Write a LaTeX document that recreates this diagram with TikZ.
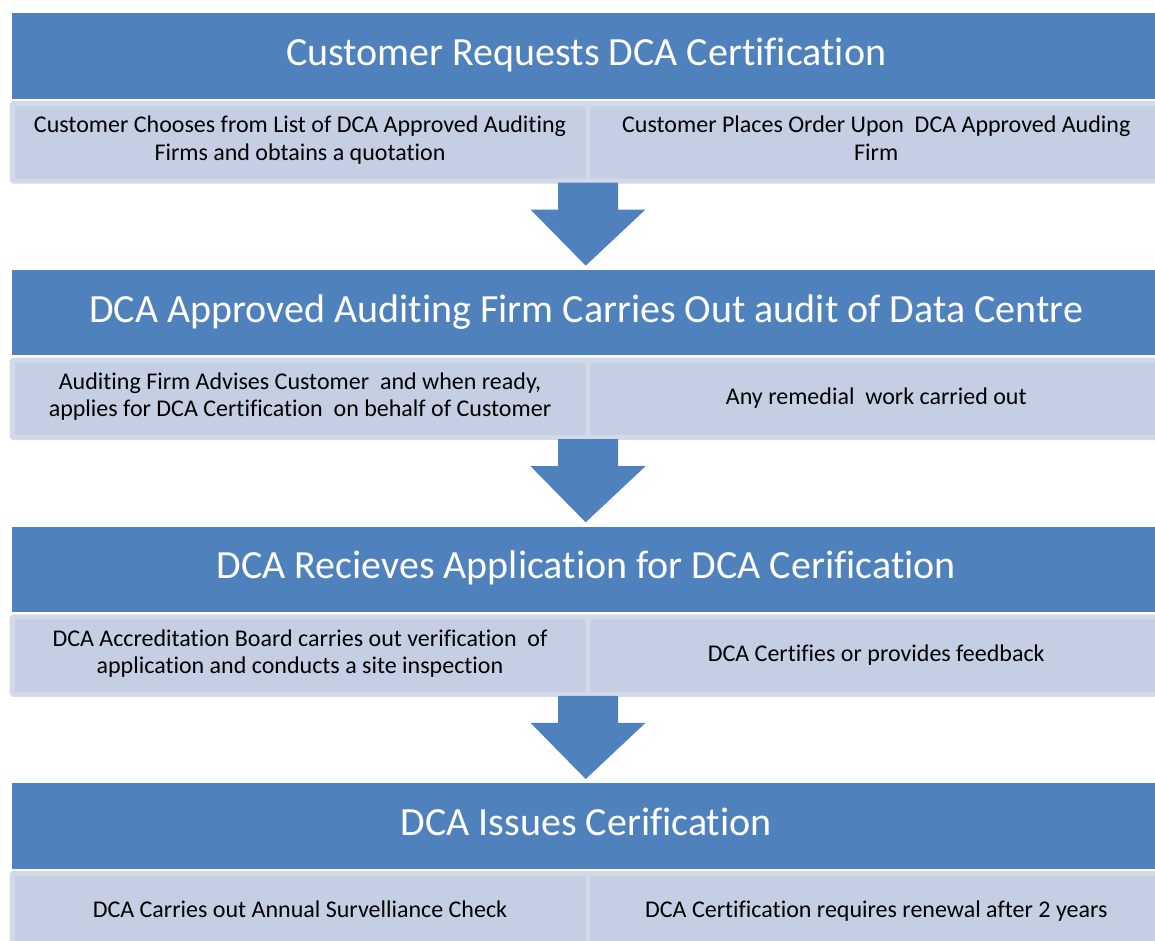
\documentclass[tikz,border=0pt]{standalone}
\usepackage{fontspec}
\setmainfont{Carlito}[Ligatures=NoCommon]
\usetikzlibrary{calc}
\definecolor{hdrblue}{HTML}{4F81BD}
\definecolor{subfill}{HTML}{C4CFE3}
\definecolor{subedge}{HTML}{D2D9E9}
\newcommand{\hdrstrut}{\rule[-9pt]{0pt}{32pt}}
\begin{document}
\begin{tikzpicture}[x=1pt,y=-1pt,
  hdr/.style={fill=hdrblue, text=white, font=\fontsize{40}{46}\selectfont,
    inner sep=0pt, anchor=north west, minimum width=1148pt, minimum height=85.5pt,
    execute at begin node=\hdrstrut},
  subbox/.style={fill=subfill, draw=subedge, line width=5pt, rounded corners=1.5pt,
    font=\fontsize{24}{27.5}\selectfont, align=center, inner sep=0pt,
    anchor=north west, minimum height=77.5pt,
    execute at begin node=\strut, execute at end node=\strut},
  leftbox/.style={subbox, minimum width=576pt},
  rightbox/.style={subbox, minimum width=576.5pt},
  bigarrow/.style={fill=hdrblue}]
\useasboundingbox (0,0) rectangle (1155,940);

% block 0
\node[hdr] (h0) at (12,13) {Customer Requests DCA Certification};
\node[leftbox] (l0) at (9.5,101) {Customer Chooses from List of DCA Approved Auditing\\Firms and obtains a quotation};
\node[rightbox] (r0) at (585.5,101) {Customer Places Order Upon \ DCA Approved Auding\\Firm};

% block 1
\node[hdr] (h1) at (12,269.67) {DCA Approved Auditing Firm Carries Out audit of Data Centre};
\node[leftbox] (l1) at (9.5,357.67) {Auditing Firm Advises Customer \ and when ready,\\applies for DCA Certification \ on behalf of Customer};
\node[rightbox] (r1) at (585.5,357.67) {Any remedial \ work carried out};

% block 2
\node[hdr] (h2) at (12,526.33) {DCA Recieves Application for DCA Cerification};
\node[leftbox] (l2) at (9.5,614.33) {DCA Accreditation Board carries out verification \ of\\application and conducts a site inspection};
\node[rightbox] (r2) at (585.5,614.33) {DCA Certifies or provides feedback};

% block 3
\node[hdr] (h3) at (12,783) {DCA Issues Cerification};
\node[leftbox] (l3) at (9.5,871) {DCA Carries out Annual Survelliance Check};
\node[rightbox] (r3) at (585.5,871) {DCA Certification requires renewal after 2 years};

% block arrows
\foreach \i/\j in {0/1,1/2,2/3}{
  \coordinate (c\i) at ($(l\i.south east)+(-2.5,-1)$);
  \coordinate (t\i) at ($(h\j.north)+(-0.5,-4)$);
  \fill[bigarrow] ($(c\i)+(-30,0)$) -- ($(c\i)+(-30,27)$) -- ($(c\i)+(-57.5,27)$)
    -- (t\i) -- ($(c\i)+(57.5,27)$) -- ($(c\i)+(30,27)$) -- ($(c\i)+(30,0)$) -- cycle;
}
\end{tikzpicture}
\end{document}
